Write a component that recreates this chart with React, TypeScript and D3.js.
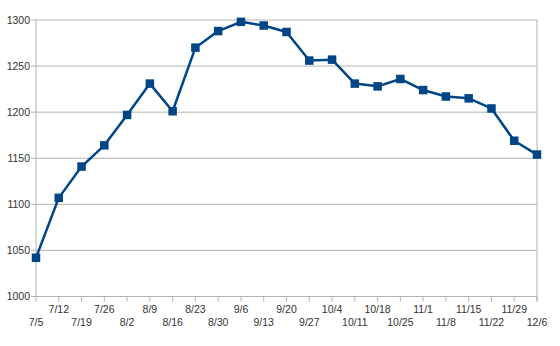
import React from "react";
import * as d3 from "d3";

const categories = ["7/5","7/12","7/19","7/26","8/2","8/9","8/16","8/23","8/30","9/6","9/13","9/20","9/27","10/4","10/11","10/18","10/25","11/1","11/8","11/15","11/22","11/29","12/6"];
const values = [1042,1107,1141,1164,1197,1231,1201,1270,1288,1298,1294,1287,1256,1257,1231,1228,1236,1224,1217,1215,1204,1169,1154];
const yTicks = [1000,1050,1100,1150,1200,1250,1300];

const W = 560, H = 346;
const left = 36, right = 537, top = 20, bottom = 296.5;

export default function App() {
  const x = d3.scalePoint<string>().domain(categories).range([left, right]);
  const y = d3.scaleLinear().domain([1000, 1300]).range([bottom, top]);
  const line = d3.line<number>().x((_, i) => x(categories[i])!).y(d => y(d));
  const grid = "#b3b3b3";
  const font = "'Liberation Sans', Arial, sans-serif";
  const m = 8.5;
  return (
    <svg width={W} height={H} style={{ position: "absolute", left: 0, top: 0, background: "#fff" }}>
      {yTicks.map(t => (
        <g key={t}>
          <line x1={left - 5} x2={right} y1={y(t)} y2={y(t)} stroke={grid} strokeWidth={1} />
          <text x={left - 6} y={y(t)} dy="0.35em" textAnchor="end" fontFamily={font} fontSize={10.5} fill="#333">{t}</text>
        </g>
      ))}
      <line x1={left} x2={left} y1={top} y2={bottom} stroke={grid} strokeWidth={1} />
      <line x1={right} x2={right} y1={top} y2={bottom + 5} stroke={grid} strokeWidth={1} />
      {categories.map((c, i) => (
        <g key={c}>
          <line x1={x(c)} x2={x(c)} y1={bottom} y2={bottom + 5} stroke={grid} strokeWidth={1} />
          <text x={x(c)} y={i % 2 === 0 ? 326 : 313} textAnchor="middle" fontFamily={font} fontSize={10.5} fill="#333">{c}</text>
        </g>
      ))}
      <path d={line(values)!} fill="none" stroke="#004586" strokeWidth={2.5} strokeLinejoin="round" />
      {values.map((v, i) => (
        <rect key={i} x={x(categories[i])! - m / 2} y={y(v) - m / 2} width={m} height={m} fill="#004586" />
      ))}
    </svg>
  );
}
